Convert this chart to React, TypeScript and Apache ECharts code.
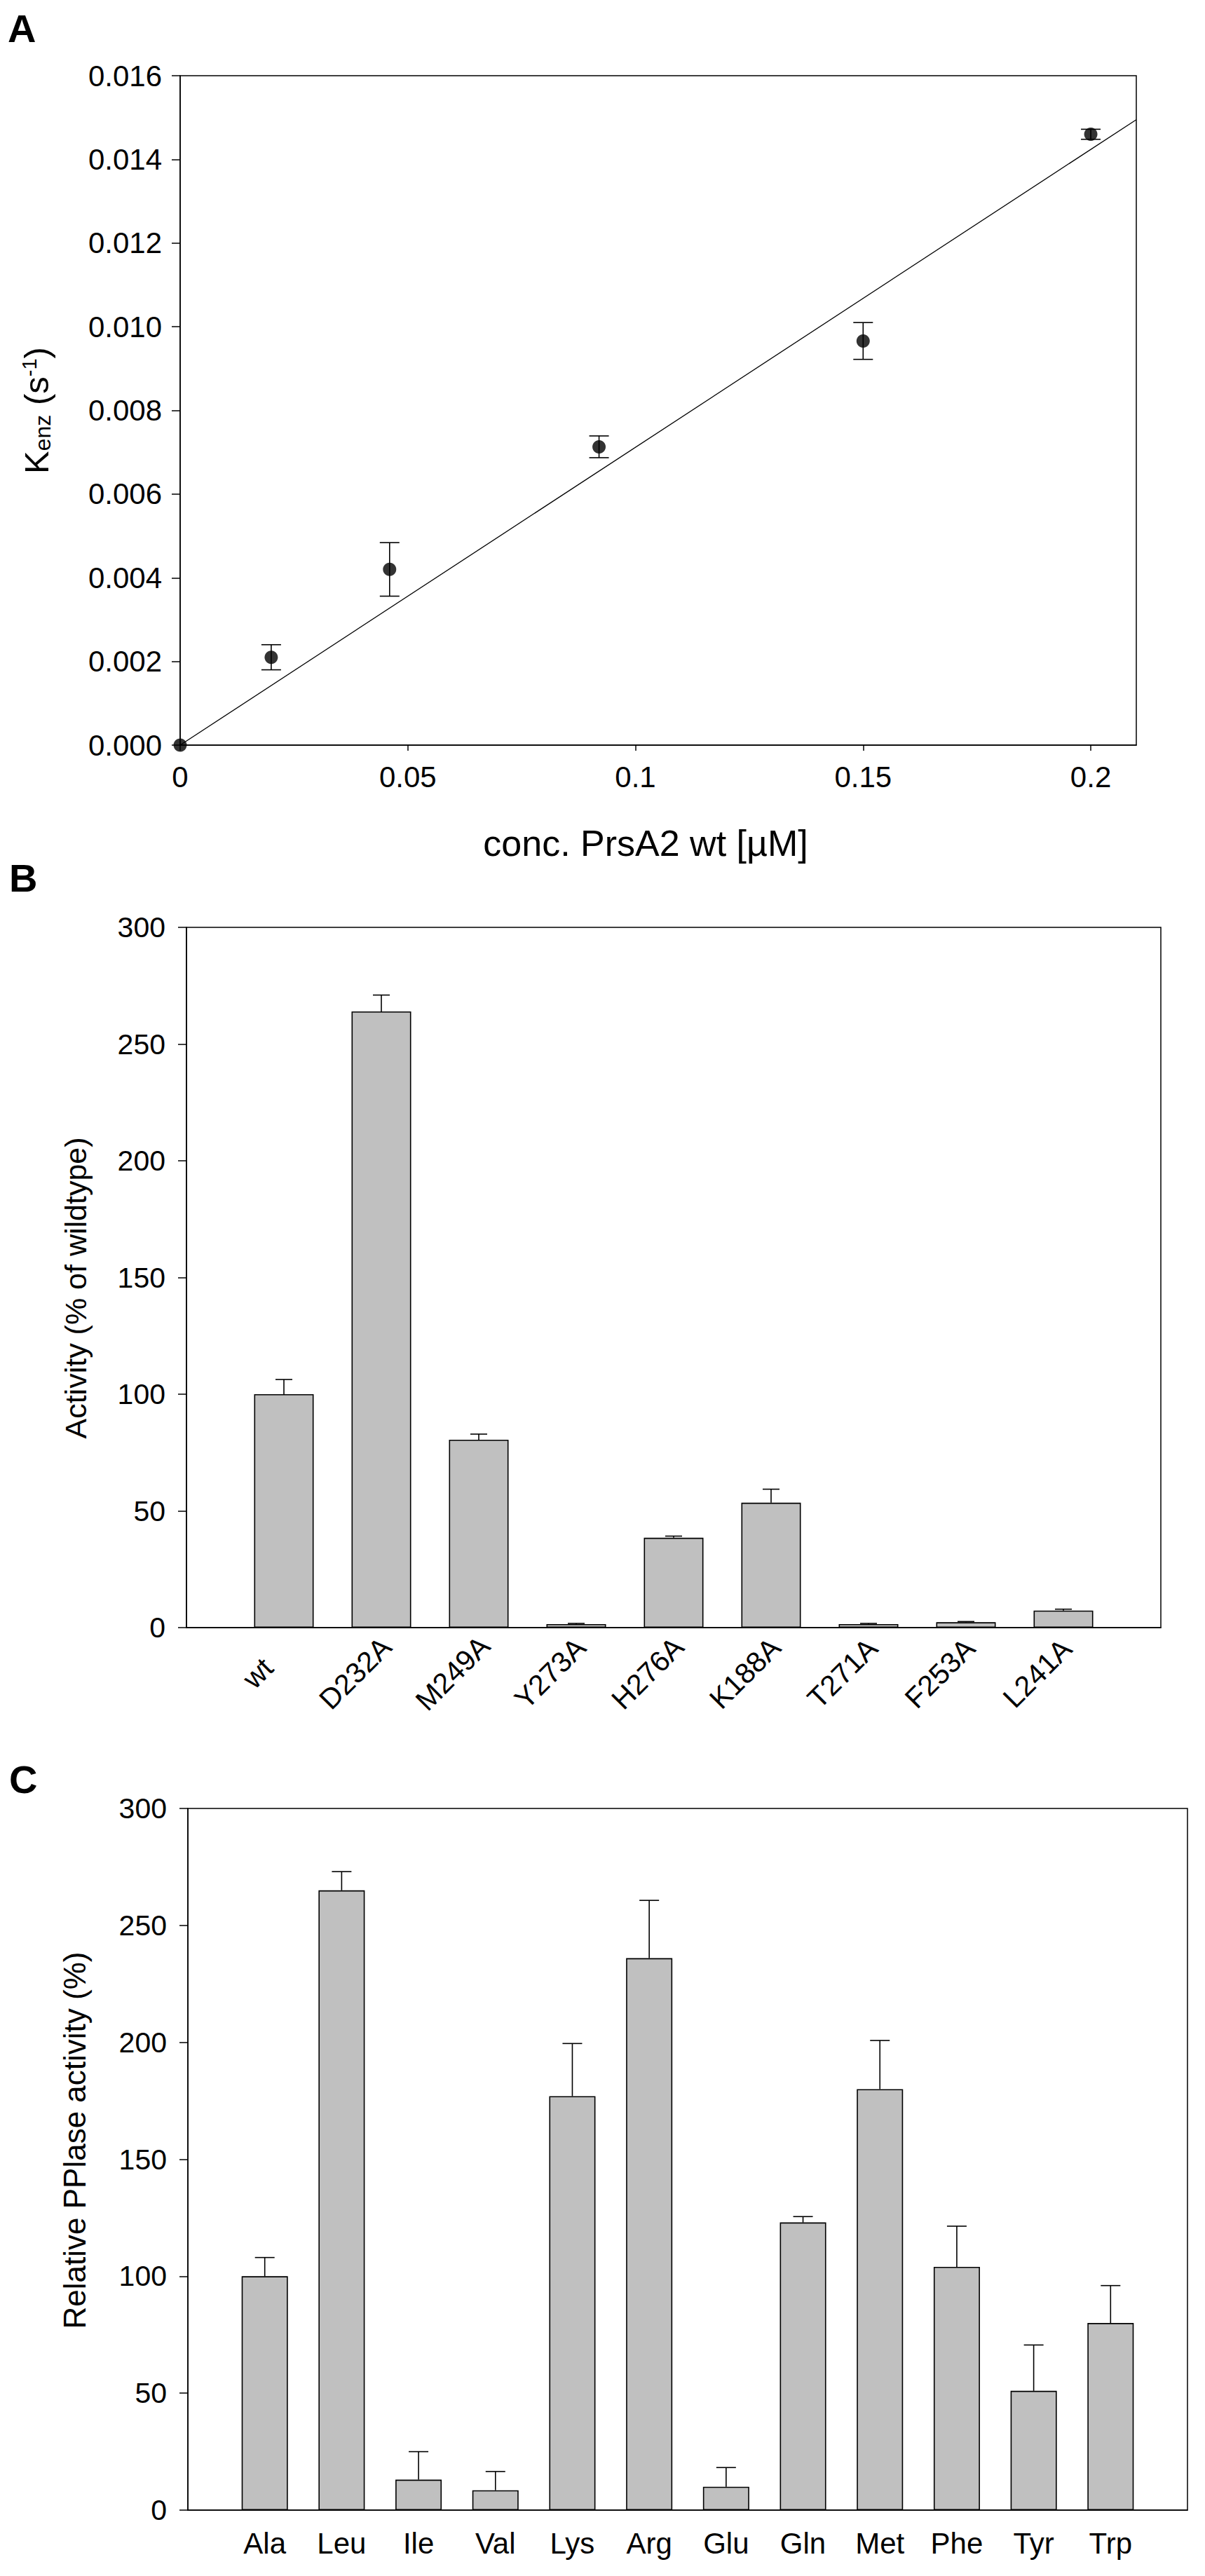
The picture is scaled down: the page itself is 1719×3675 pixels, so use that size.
import React, { useEffect, useRef } from "react";
import * as echarts from "echarts";

// ---------- Panel A data ----------
const aConc = [0, 0.02, 0.046, 0.092, 0.15, 0.2];
const aKenz = [0, 0.0021, 0.0042, 0.00713, 0.00966, 0.0146];
const aErr = [0, 0.0003, 0.00064, 0.00026, 0.00044, 0.00012];
const aFitX = [0, 0.21];
const aFitY = [0, 0.01495];
const aXMax = 0.21;
const aYMax = 0.016;

// ---------- Panel B data ----------
const bCategories = ["wt", "D232A", "M249A", "Y273A", "H276A", "K188A", "T271A", "F253A", "L241A"];
const bValues = [100, 264, 80.5, 1.5, 38.5, 53.5, 1.5, 2.3, 7.3];
const bErrors = [6.3, 7, 2.4, 0.3, 0.7, 5.8, 0.3, 0.3, 0.6];

// ---------- Panel C data ----------
const cCategories = ["Ala", "Leu", "Ile", "Val", "Lys", "Arg", "Glu", "Gln", "Met", "Phe", "Tyr", "Trp"];
const cValues = [100, 265, 13, 8.5, 177, 236, 10, 123, 180, 104, 51, 80];
const cErrors = [8, 8, 12, 8, 22.5, 24.7, 8.2, 2.5, 20.8, 17.4, 19.6, 16];

const FONT = "'Liberation Sans', Arial, Helvetica, sans-serif";
const BLACK = "#000";
const BAR_FILL = "#c0c0c0";

const pad = (arr: any[], v: any) => [v, ...arr, v];

function upErrRender(capHalf: number) {
  return (params: any, api: any) => {
    const x = api.value(0);
    const y = api.value(1);
    const e = api.value(2);
    const p0 = api.coord([x, y]);
    const p1 = api.coord([x, y + e]);
    return {
      type: "group",
      children: [
        { type: "line", shape: { x1: p0[0], y1: p0[1], x2: p1[0], y2: p1[1] }, style: { stroke: BLACK, lineWidth: 1.6 } },
        { type: "line", shape: { x1: p1[0] - capHalf, y1: p1[1], x2: p1[0] + capHalf, y2: p1[1] }, style: { stroke: BLACK, lineWidth: 1.6 } },
      ],
    };
  };
}

function bothErrRender(capHalf: number) {
  return (params: any, api: any) => {
    const x = api.value(0);
    const y = api.value(1);
    const e = api.value(2);
    if (!e) return { type: "group", children: [] };
    const pT = api.coord([x, y + e]);
    const pB = api.coord([x, y - e]);
    return {
      type: "group",
      children: [
        { type: "line", shape: { x1: pT[0], y1: pT[1], x2: pB[0], y2: pB[1] }, style: { stroke: BLACK, lineWidth: 1.6 } },
        { type: "line", shape: { x1: pT[0] - capHalf, y1: pT[1], x2: pT[0] + capHalf, y2: pT[1] }, style: { stroke: BLACK, lineWidth: 1.6 } },
        { type: "line", shape: { x1: pB[0] - capHalf, y1: pB[1], x2: pB[0] + capHalf, y2: pB[1] }, style: { stroke: BLACK, lineWidth: 1.6 } },
      ],
    };
  };
}

const tickLabel = { fontFamily: FONT, fontSize: 42, color: BLACK };

export default function App() {
  const ref = useRef<HTMLDivElement>(null);

  useEffect(() => {
    if (!ref.current) return;
    const chart = echarts.init(ref.current, undefined, { renderer: "svg" });

    const gridBase = { show: true, borderColor: BLACK, borderWidth: 1.5, backgroundColor: "transparent", containLabel: false };

    const option: any = {
      animation: false,
      backgroundColor: "#fff",
      textStyle: { fontFamily: FONT },
      grid: [
        { ...gridBase, left: 257, top: 108, width: 1364, height: 955 },
        { ...gridBase, left: 266, top: 1323, width: 1390, height: 999 },
        { ...gridBase, left: 268, top: 2580, width: 1426, height: 1001 },
      ],
      xAxis: [
        {
          gridIndex: 0,
          type: "value",
          min: 0,
          max: aXMax,
          interval: 0.05,
          axisLine: { show: true, onZero: false, lineStyle: { color: BLACK, width: 1.5 } },
          axisTick: { show: true, inside: false, length: 8, lineStyle: { color: BLACK, width: 1.5 } },
          axisLabel: { ...tickLabel, margin: 24, showMaxLabel: false },
          splitLine: { show: false },
          name: "conc. PrsA2 wt [µM]",
          nameLocation: "middle",
          nameGap: 114,
          nameTextStyle: { fontFamily: FONT, fontSize: 52, color: BLACK, padding: [0, 36, 0, 0] },
        },
        {
          gridIndex: 1,
          type: "category",
          data: pad(bCategories, ""),
          boundaryGap: false,
          axisLine: { show: true, onZero: false, lineStyle: { color: BLACK, width: 1.5 } },
          axisTick: { show: false },
          axisLabel: {
            ...tickLabel,
            fontSize: 41,
            interval: 0,
            rotate: 45,
            align: "center",
            verticalAlign: "middle",
            margin: 28,
            padding: [0, 105, 0, 0],
          },
          splitLine: { show: false },
        },
        {
          gridIndex: 2,
          type: "category",
          data: pad(cCategories, ""),
          boundaryGap: false,
          axisLine: { show: true, onZero: false, lineStyle: { color: BLACK, width: 1.5 } },
          axisTick: { show: false },
          axisLabel: { ...tickLabel, interval: 0, margin: 26 },
          splitLine: { show: false },
        },
      ],
      yAxis: [
        {
          gridIndex: 0,
          type: "value",
          min: 0,
          max: aYMax,
          interval: 0.002,
          axisLine: { show: true, onZero: false, lineStyle: { color: BLACK, width: 1.5 } },
          axisTick: { show: true, inside: false, length: 12, lineStyle: { color: BLACK, width: 1.5 } },
          axisLabel: { ...tickLabel, margin: 26, formatter: (v: number) => v.toFixed(3) },
          splitLine: { show: false },
          name: "{k|K}{sub|enz}{n| (s}{sup|-1}{n|)}",
          nameLocation: "middle",
          nameGap: 180,
          nameTextStyle: {
            fontFamily: FONT,
            color: BLACK,
            rich: {
              k: { fontFamily: FONT, fontSize: 49, lineHeight: 50, color: BLACK },
              sub: { fontFamily: FONT, fontSize: 32, lineHeight: 20, verticalAlign: "bottom", color: BLACK },
              n: { fontFamily: FONT, fontSize: 49, lineHeight: 50, color: BLACK },
              sup: { fontFamily: FONT, fontSize: 29, lineHeight: 30, verticalAlign: "top", color: BLACK },
            },
          },
        },
        {
          gridIndex: 1,
          type: "value",
          min: 0,
          max: 300,
          interval: 50,
          axisLine: { show: true, onZero: false, lineStyle: { color: BLACK, width: 1.5 } },
          axisTick: { show: true, inside: false, length: 12, lineStyle: { color: BLACK, width: 1.5 } },
          axisLabel: { ...tickLabel, fontSize: 41, margin: 30 },
          splitLine: { show: false },
          name: "Activity (% of wildtype)",
          nameLocation: "middle",
          nameGap: 137,
          nameTextStyle: { fontFamily: FONT, fontSize: 43, color: BLACK, padding: [0, 30, 0, 0] },
        },
        {
          gridIndex: 2,
          type: "value",
          min: 0,
          max: 300,
          interval: 50,
          axisLine: { show: true, onZero: false, lineStyle: { color: BLACK, width: 1.5 } },
          axisTick: { show: true, inside: false, length: 12, lineStyle: { color: BLACK, width: 1.5 } },
          axisLabel: { ...tickLabel, fontSize: 41, margin: 30 },
          splitLine: { show: false },
          name: "Relative PPlase activity (%)",
          nameLocation: "middle",
          nameGap: 140,
          nameTextStyle: { fontFamily: FONT, fontSize: 44, color: BLACK, padding: [0, 0, 0, 54] },
        },
      ],
      series: [
        // Panel A fit line
        {
          type: "line",
          xAxisIndex: 0,
          yAxisIndex: 0,
          data: aFitX.map((x, i) => [x, aFitY[i]]),
          showSymbol: false,
          symbol: "none",
          lineStyle: { color: BLACK, width: 1.3 },
          z: 2,
          silent: true,
        },
        // Panel A error bars
        {
          type: "custom",
          xAxisIndex: 0,
          yAxisIndex: 0,
          data: aConc.map((x, i) => [x, aKenz[i], aErr[i]]),
          encode: { x: 0, y: 1 },
          renderItem: bothErrRender(14),
          clip: false,
          z: 3,
        },
        // Panel A points
        {
          type: "scatter",
          xAxisIndex: 0,
          yAxisIndex: 0,
          data: aConc.map((x, i) => [x, aKenz[i]]),
          symbol: "circle",
          symbolSize: 19,
          itemStyle: { color: BLACK },
          clip: false,
          z: 4,
        },
        // Panel B bars
        {
          type: "bar",
          xAxisIndex: 1,
          yAxisIndex: 1,
          data: pad(bValues, "-"),
          barWidth: 85,
          itemStyle: { color: BAR_FILL, borderColor: BLACK, borderWidth: 1.6 },
          z: 2,
        },
        {
          type: "custom",
          xAxisIndex: 1,
          yAxisIndex: 1,
          data: bValues.map((v, i) => [i + 1, v, bErrors[i]]),
          encode: { x: 0, y: 1 },
          renderItem: upErrRender(12),
          z: 3,
        },
        // Panel C bars
        {
          type: "bar",
          xAxisIndex: 2,
          yAxisIndex: 2,
          data: pad(cValues, "-"),
          barWidth: 66,
          itemStyle: { color: BAR_FILL, borderColor: BLACK, borderWidth: 1.6 },
          z: 2,
        },
        {
          type: "custom",
          xAxisIndex: 2,
          yAxisIndex: 2,
          data: cValues.map((v, i) => [i + 1, v, cErrors[i]]),
          encode: { x: 0, y: 1 },
          renderItem: upErrRender(14),
          z: 3,
        },
      ],
      graphic: [
        { type: "text", x: 11, y: 40, style: { text: "A", fontFamily: FONT, fontWeight: "bold", fontSize: 56, fill: BLACK, textAlign: "left", textVerticalAlign: "middle" } },
        { type: "text", x: 13, y: 1252, style: { text: "B", fontFamily: FONT, fontWeight: "bold", fontSize: 56, fill: BLACK, textAlign: "left", textVerticalAlign: "middle" } },
        { type: "text", x: 13, y: 2538, style: { text: "C", fontFamily: FONT, fontWeight: "bold", fontSize: 56, fill: BLACK, textAlign: "left", textVerticalAlign: "middle" } },
      ],
    };

    chart.setOption(option);
    return () => chart.dispose();
  }, []);

  return (
    <div style={{ position: "absolute", left: 0, top: 0, width: 1719, height: 3675, background: "#fff" }}>
      <div ref={ref} style={{ width: 1719, height: 3675 }} />
    </div>
  );
}
